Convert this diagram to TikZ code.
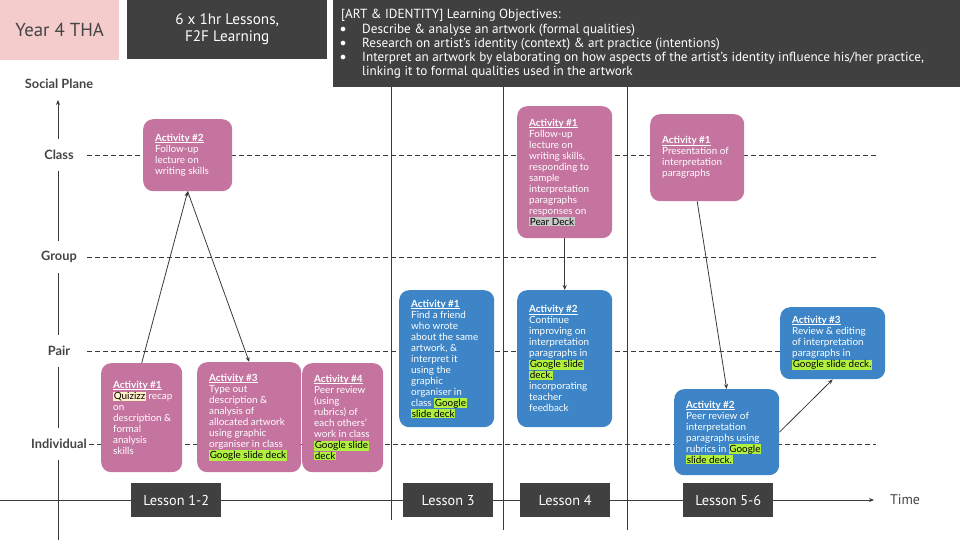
\documentclass[tikz,border=0pt]{standalone}
\usepackage{fontspec}
\setmainfont{Lato}
\newfontfamily\hfont{PT Sans}
\usetikzlibrary{arrows.meta}
\definecolor{pinkbox}{HTML}{C4749F}
\definecolor{bluebox}{HTML}{3D85C6}
\definecolor{darkbox}{HTML}{404040}
\definecolor{headpink}{HTML}{F4CCCC}
\definecolor{hlgreen}{HTML}{B2F040}
\definecolor{hlgray}{HTML}{C8C8C8}
\definecolor{hlcream}{HTML}{FFF0C8}
\definecolor{axcol}{HTML}{444444}
\definecolor{linecol}{HTML}{3A3A3A}
\newcommand\hlg[1]{{\setlength{\fboxsep}{0.6pt}\colorbox{hlgreen}{\color{black}#1}}}
\newcommand\hlp[1]{{\setlength{\fboxsep}{0.6pt}\colorbox{hlgray}{\color{black}#1}}}
\newcommand\hlq[1]{{\setlength{\fboxsep}{0.6pt}\colorbox{hlcream}{\color{black}#1}}}
\newsavebox\actsbox
\newcommand\acth[1]{\sbox\actsbox{\textbf{Activity \##1}}\rlap{\rule[-1.3pt]{\wd\actsbox}{0.6pt}}\usebox\actsbox}
\begin{document}
\begin{tikzpicture}[x=1pt,y=-1pt,
  abox/.style={rounded corners=10pt, draw=none, anchor=north west, inner sep=0pt},
  atext/.style={anchor=west, align=left, inner sep=0pt, text=white, font=\fontsize{9.9}{11}\selectfont},
  dbox/.style={fill=darkbox, draw=none, anchor=north west, inner sep=0pt},
  lesson/.style={fill=darkbox, draw=none, anchor=north west, inner sep=0pt, minimum width=90pt, minimum height=34pt, text=white, font=\hfont\fontsize{14.3}{16}\selectfont},
  axlab/.style={fill=white, text=axcol, inner xsep=1pt, inner ysep=0pt, minimum height=32pt, font=\bfseries\fontsize{12.8}{14}\selectfont},
  level/.style={draw=linecol, line width=0.7pt, dash pattern=on 5pt off 3pt},
  vline/.style={draw=linecol, line width=0.7pt},
  arr/.style={draw=linecol, line width=0.8pt, -{Stealth[length=5pt,width=4pt]}}
]
\useasboundingbox (0,0) rectangle (960,540);
% level lines
\coordinate (c1) at (87,155); \coordinate (c2) at (876,155);
\coordinate (g1) at (87,257); \coordinate (g2) at (876,257);
\coordinate (p1) at (87,351); \coordinate (p2) at (876,351);
\coordinate (i1) at (89,444); \coordinate (i2) at (876,444);
\draw[level] (c1) -- (c2);
\draw[level] (g1) -- (g2);
\draw[level] (p1) -- (p2);
\draw[level] (i1) -- (i2);
% lesson dividers
\coordinate (v1a) at (391,87); \coordinate (v1b) at (391,520);
\coordinate (v2a) at (503,87); \coordinate (v2b) at (503,530);
\coordinate (v3a) at (627,87); \coordinate (v3b) at (627,530);
\draw[vline] (v1a) -- (v1b);
\draw[vline] (v2a) -- (v2b);
\draw[vline] (v3a) -- (v3b);
% time axis
\coordinate (t0) at (0,500);
\node[text=axcol, font=\hfont\fontsize{14}{16}\selectfont] (time) at (905,500) {Time};
\draw[draw=linecol, line width=0.8pt, -{Stealth[length=5pt,width=4pt]}] (t0) -- (874,500);
% social axis
\coordinate (s0) at (58,540); \coordinate (s1) at (58,100);
\draw[draw=linecol, line width=0.8pt, -{Stealth[length=5pt,width=4pt]}] (s0) -- (s1);
\node[text=axcol, font=\bfseries\fontsize{12.8}{14}\selectfont] (lsoc) at (59,84) {Social Plane};
\node[axlab] (lclass) at (59,155) {Class};
\node[axlab] (lgroup) at (59,257) {Group};
\node[axlab] (lpair) at (59,351) {Pair};
\node[axlab] (lind) at (59,444) {Individual};
% header
\node[fill=headpink, draw=none, anchor=north west, inner sep=0pt, minimum width=119pt, minimum height=60pt, text=axcol, font=\hfont\fontsize{18.8}{20}\selectfont] (year) at (0,0) {Year 4 THA};
\node[dbox, minimum width=200pt, minimum height=59pt, text=white, align=center, font=\hfont\fontsize{15.2}{17}\selectfont] (f2f) at (127,0) {6 x 1hr Lessons,\\F2F Learning};
\node[dbox, minimum width=627pt, minimum height=87pt] (obj) at (333,0) {};
\begin{scope}[every node/.style={anchor=west, inner sep=0pt, text=white, font=\hfont\fontsize{13.2}{14}\selectfont}]
\node (o0) at (341,15) {[ART \& IDENTITY] Learning Objectives:};
\node (b1) at (340,30) {$\bullet$}; \node (o1) at (362,30) {Describe \& analyse an artwork (formal qualities)};
\node (b2) at (340,44) {$\bullet$}; \node (o2) at (362,44) {Research on artist’s identity (context) \& art practice (intentions)};
\node (b3) at (340,58) {$\bullet$}; \node (o3) at (362,58) {Interpret an artwork by elaborating on how aspects of the artist’s identity influence his/her practice,};
\node (o4) at (362,72) {linking it to formal qualities used in the artwork};
\end{scope}
% lessons
\node[lesson] (les12) at (131,483) {Lesson 1-2};
\node[lesson] (les3) at (403,483) {Lesson 3};
\node[lesson] (les4) at (520,483) {Lesson 4};
\node[lesson] (les56) at (683,483) {Lesson 5-6};
% Lesson 1-2 boxes
\node[abox, fill=pinkbox, minimum width=89pt, minimum height=72pt] (a12b) at (143,119) {};
\node[atext] (a12bt) at ([xshift=12pt]a12b.west) {\acth{2}\\Follow-up\\lecture on\\writing skills};
\node[abox, fill=pinkbox, minimum width=81pt, minimum height=109pt] (a12a) at (101,363) {};
\node[atext] (a12at) at ([xshift=12pt]a12a.west) {\acth{1}\\\hlq{Quizizz} recap\\on\\description \&\\formal\\analysis\\skills};
\node[abox, fill=pinkbox, minimum width=104pt, minimum height=110pt] (a12c) at (197,362) {};
\node[atext] (a12ct) at ([xshift=12pt]a12c.west) {\acth{3}\\Type out\\description \&\\analysis of\\allocated artwork\\using graphic\\organiser in class\\\hlg{Google slide deck}};
\node[abox, fill=pinkbox, minimum width=81pt, minimum height=109pt] (a12d) at (302,363) {};
\node[atext] (a12dt) at ([xshift=12pt]a12d.west) {\acth{4}\\Peer review\\(using\\rubrics) of\\each others’\\work in class\\\hlg{Google slide}\\\hlg{deck}};
% Lesson 3
\node[abox, fill=bluebox, minimum width=95pt, minimum height=137pt] (a3a) at (399,290) {};
\node[atext] (a3at) at ([xshift=12pt]a3a.west) {\acth{1}\\Find a friend\\who wrote\\about the same\\artwork, \&\\interpret it\\using the\\graphic\\organiser in\\class \hlg{Google}\\\hlg{slide deck}};
% Lesson 4
\node[abox, fill=pinkbox, minimum width=95pt, minimum height=132pt] (a4a) at (517,106) {};
\node[atext] (a4at) at ([xshift=12pt]a4a.west) {\acth{1}\\Follow-up\\lecture on\\writing skills,\\responding to\\sample\\interpretation\\paragraphs\\responses on\\\hlp{Pear Deck}};
\node[abox, fill=bluebox, minimum width=95pt, minimum height=137pt] (a4b) at (517,290) {};
\node[atext] (a4bt) at ([xshift=12pt]a4b.west) {\acth{2}\\Continue\\improving on\\interpretation\\paragraphs in\\\hlg{Google slide}\\\hlg{deck.}\\incorporating\\teacher\\feedback};
% Lesson 5-6
\node[abox, fill=pinkbox, minimum width=94pt, minimum height=87pt] (a56a) at (650,114) {};
\node[atext] (a56at) at ([xshift=12pt]a56a.west) {\acth{1}\\Presentation of\\interpretation\\paragraphs};
\node[abox, fill=bluebox, minimum width=105pt, minimum height=86pt] (a56b) at (674,389) {};
\node[atext] (a56bt) at ([xshift=12pt]a56b.west) {\acth{2}\\Peer review of\\interpretation\\paragraphs using\\rubrics in \hlg{Google}\\\hlg{slide deck.}};
\node[abox, fill=bluebox, minimum width=105pt, minimum height=72pt] (a56c) at (780,307) {};
\node[atext] (a56ct) at ([xshift=12pt]a56c.west) {\acth{3}\\Review \& editing\\of interpretation\\paragraphs in\\\hlg{Google slide deck.}};
% connectors
\draw[arr] (a12a.north) -- (a12b.south);
\draw[arr] (a12b.south) -- (a12c.north);
\draw[arr] (a4a.south) -- (a4b.north);
\draw[arr] (a56a.south) -- (a56b.north);
\draw[arr] (a56b.east) -- (a56c.south);
\end{tikzpicture}
\end{document}
